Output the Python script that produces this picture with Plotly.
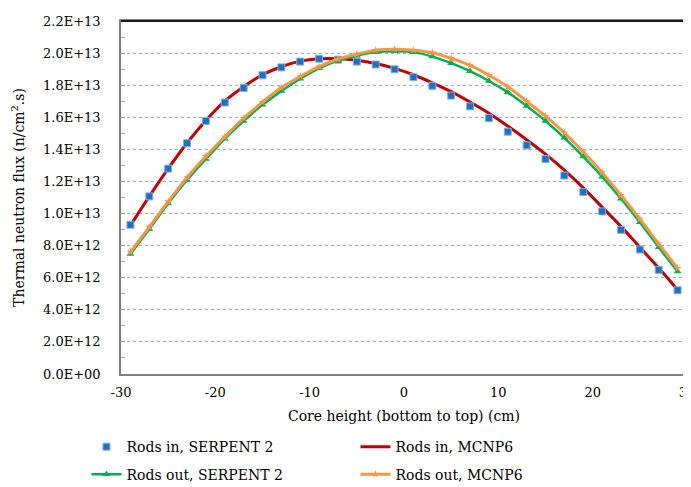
import plotly.graph_objects as go

# core height positions (cm)
z = [-29, -27, -25, -23, -21, -19, -17, -15, -13, -11, -9, -7, -5, -3, -1,
     1, 3, 5, 7, 9, 11, 13, 15, 17, 19, 21, 23, 25, 27, 29]

# thermal neutron flux (n/cm2.s)
rods_in_serpent = [9.30e12, 1.107e13, 1.28e13, 1.438e13, 1.577e13, 1.692e13, 1.783e13,
                   1.862e13, 1.911e13, 1.947e13, 1.965e13, 1.959e13, 1.947e13, 1.929e13,
                   1.899e13, 1.85e13, 1.796e13, 1.735e13, 1.668e13, 1.595e13, 1.51e13,
                   1.425e13, 1.34e13, 1.237e13, 1.134e13, 1.013e13, 8.98e12, 7.76e12,
                   6.49e12, 5.22e12]
rods_in_mcnp = [9.25e12, 1.107e13, 1.28e13, 1.44e13, 1.58e13, 1.70e13, 1.79e13,
                1.865e13, 1.915e13, 1.95e13, 1.965e13, 1.965e13, 1.955e13, 1.935e13,
                1.905e13, 1.865e13, 1.815e13, 1.76e13, 1.695e13, 1.625e13, 1.545e13,
                1.46e13, 1.37e13, 1.27e13, 1.16e13, 1.04e13, 9.2e12, 7.9e12,
                6.6e12, 5.25e12]
rods_out_serpent = [7.48e12, 9.02e12, 1.063e13, 1.209e13, 1.34e13, 1.466e13, 1.577e13,
                    1.678e13, 1.763e13, 1.84e13, 1.905e13, 1.953e13, 1.984e13, 2.006e13,
                    2.012e13, 2.006e13, 1.978e13, 1.937e13, 1.887e13, 1.826e13, 1.755e13,
                    1.67e13, 1.577e13, 1.472e13, 1.355e13, 1.23e13, 1.092e13, 9.46e12,
                    7.9e12, 6.39e12]
rods_out_mcnp = [7.6e12, 9.16e12, 1.074e13, 1.225e13, 1.357e13, 1.478e13, 1.594e13,
                 1.694e13, 1.785e13, 1.854e13, 1.915e13, 1.963e13, 1.994e13, 2.018e13,
                 2.024e13, 2.018e13, 2.002e13, 1.967e13, 1.923e13, 1.862e13, 1.79e13,
                 1.70e13, 1.607e13, 1.503e13, 1.385e13, 1.256e13, 1.114e13, 9.66e12,
                 8.11e12, 6.59e12]

x_ticks = [-30, -20, -10, 0, 10, 20, 30]
x_labels = ["-30", "-20", "-10", "0", "10", "20", "30"]
y_ticks = [0, 2e12, 4e12, 6e12, 8e12, 1e13, 1.2e13, 1.4e13, 1.6e13, 1.8e13, 2e13, 2.2e13]
y_labels = ["0.0E+00", "2.0E+12", "4.0E+12", "6.0E+12", "8.0E+12", "1.0E+13",
            "1.2E+13", "1.4E+13", "1.6E+13", "1.8E+13", "2.0E+13", "2.2E+13"]

font = "DejaVu Serif"

fig = go.Figure()

fig.add_trace(go.Scatter(
    x=z, y=rods_in_mcnp, name="Rods in, MCNP6", mode="lines",
    line=dict(color="#C00000", width=3, shape="spline"),
    legend="legend", legendrank=2,
))
fig.add_trace(go.Scatter(
    x=z, y=rods_in_serpent, name="Rods in, SERPENT 2", mode="markers",
    marker=dict(symbol="square", size=7, color="#1F70C1",
                line=dict(color="#7FB2E5", width=1)),
    legend="legend", legendrank=1,
))
fig.add_trace(go.Scatter(
    x=z, y=rods_out_serpent, name="Rods out, SERPENT 2", mode="lines+markers",
    line=dict(color="#00B050", width=2.5, shape="spline"),
    marker=dict(symbol="triangle-up", size=7, color="#00B050"),
    legend="legend2", legendrank=3,
))
fig.add_trace(go.Scatter(
    x=z, y=rods_out_mcnp, name="Rods out, MCNP6", mode="lines+markers",
    line=dict(color="#F79646", width=3, shape="spline"),
    marker=dict(symbol="star", size=6, color="#F79646"),
    legend="legend2", legendrank=4,
))

# dark top border of the plot frame
fig.add_shape(type="line", xref="paper", yref="paper", x0=0, x1=1, y0=1, y1=1,
              line=dict(color="#1A1A1A", width=2))

legend_style = dict(orientation="h", entrywidth=224, font=dict(family=font, size=14, color="black"),
                    bgcolor="rgba(0,0,0,0)", xanchor="left", yanchor="middle", itemwidth=30)

fig.update_layout(
    width=691, height=487,
    margin=dict(l=113, r=4, t=13, b=112),
    paper_bgcolor="white", plot_bgcolor="white",
    font=dict(family=font, size=13, color="black"),
    showlegend=True,
    legend=dict(x=-0.061, y=-0.207, **legend_style),
    legend2=dict(x=-0.061, y=-0.285, **legend_style),
    xaxis=dict(
        range=[-30, 30], tickvals=x_ticks, ticktext=x_labels,
        showgrid=False, zeroline=False,
        showline=True, linecolor="#808080", linewidth=1.5, mirror=True,
        ticks="", ticklabelstandoff=6, ticklabeloverflow="allow",
        title=dict(text="Core height (bottom to top) (cm)", font=dict(size=14), standoff=12),
    ),
    yaxis=dict(
        range=[0, 2.2e13], tickvals=y_ticks, ticktext=y_labels,
        showgrid=True, gridcolor="#8DB0DE", griddash="dot", gridwidth=1,
        zeroline=False,
        showline=True, linecolor="#808080", linewidth=1.5, mirror=True,
        ticks="inside", ticklen=4, tickcolor="#A0A0A0",
        minor=dict(dtick=1e12, ticks="inside", ticklen=4, tickcolor="#A0A0A0", showgrid=False),
        ticklabelstandoff=16,
        title=dict(text="Thermal neutron flux (n/cm<sup>2</sup>.s)", font=dict(size=14), standoff=15),
    ),
)

fig.write_html("out.html")
